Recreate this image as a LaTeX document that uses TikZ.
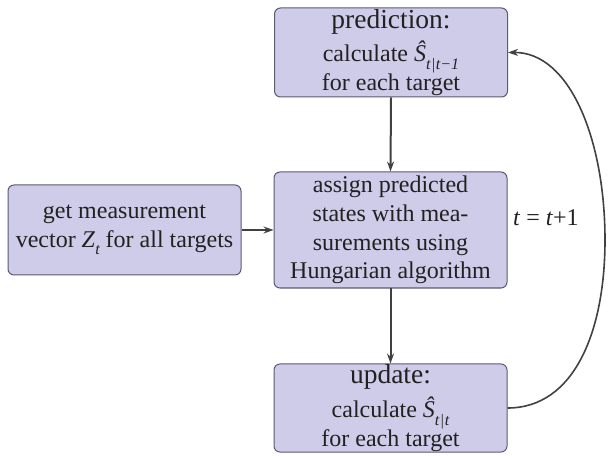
\documentclass[tikz,border=0pt]{standalone}
\usepackage{fontspec}
\setmainfont{Liberation Serif}
\usetikzlibrary{arrows.meta}
\definecolor{boxfill}{RGB}{206,204,232}
\definecolor{boxdraw}{RGB}{92,90,112}
\definecolor{txt}{RGB}{35,32,34}
\definecolor{arr}{RGB}{65,65,65}
\newcommand{\bodyfs}{\fontsize{24}{28.7}\selectfont}
\newcommand{\tightfs}{\fontsize{24}{25}\selectfont}
\newcommand{\titlefs}{\fontsize{27.5}{28}\selectfont}
\newcommand{\subfs}{\fontsize{16}{16}\selectfont}
\newcommand{\shat}[1]{\textit{Ŝ}\raisebox{-8pt}{\subfs\itshape #1}}
\tikzset{
  flowbox/.style={draw=boxdraw, fill=boxfill, line width=1pt, rounded corners=6pt,
    minimum width=233pt, inner sep=0pt, align=center, text=txt, font=\bodyfs},
  flowarrow/.style={draw=arr, line width=2pt, -{Stealth[length=10pt,width=7pt]}},
  looparrow/.style={draw=arr, line width=1.6pt, -{Stealth[length=10pt,width=7pt]}}
}
\begin{document}
\begin{tikzpicture}[x=1pt,y=1pt]
\useasboundingbox (0,0) rectangle (609,455);
\node[flowbox, minimum height=89pt, font=\tightfs] (pred) at (391,402.5)
  {{\titlefs prediction:}\\[6pt] calculate \shat{t\kern0.5pt|\kern0.5pt t−1}\\ for each target};
\node[flowbox, minimum height=116pt] (assign) at (390.5,225)
  {assign predicted\\ states with mea-\\ surements using\\ Hungarian algorithm};
\node[flowbox, minimum height=90pt] (meas) at (124.5,225)
  {get measurement\\ vector \textit{Z}\raisebox{-7pt}{\subfs\itshape t} for all targets};
\node[flowbox, minimum height=88pt, font=\tightfs] (upd) at (390.5,47)
  {{\titlefs update:}\\[7pt] calculate \shat{t\kern0.5pt|\kern0.5pt t}\\ for each target};
\node[text=txt, font=\bodyfs, anchor=base west, inner sep=0pt] (lbl) at (513,229) {\textit{t} = \textit{t}+1};
\coordinate (loopmid) at (605,215);
\draw[flowarrow] (pred.south) -- (assign.north);
\draw[flowarrow] (assign.south) -- (upd.north);
\draw[flowarrow] (meas.east) -- (meas.east -| assign.west);
\draw[looparrow] (upd.east) .. controls (575,47) and (605,125) .. (loopmid)
  .. controls (605,315) and (570,403) .. (pred.east);
\end{tikzpicture}
\end{document}
